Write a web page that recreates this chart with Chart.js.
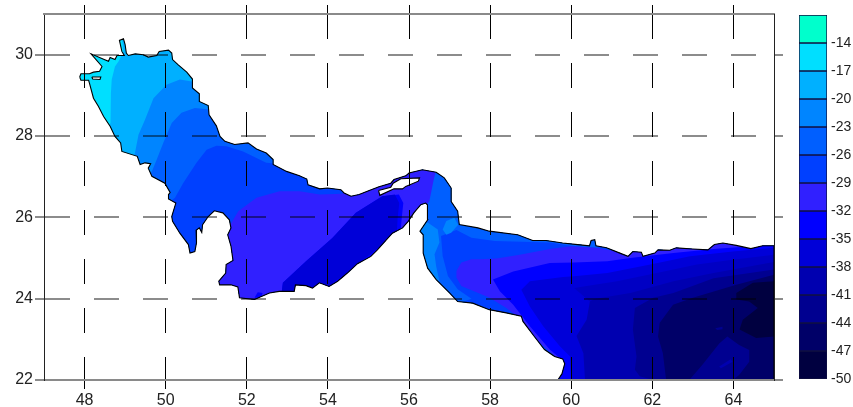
<!DOCTYPE html>
<html lang="en">
<head>
<meta charset="UTF-8">
<title>Contour map</title>
<script src="https://cdn.jsdelivr.net/npm/chart.js"></script>
<style>
    html, body { margin: 0; padding: 0; background: #fff; overflow: hidden; }
    #map { position: absolute; left: 0; top: 0; }
    #bar { position: absolute; left: 790px; top: 0; }
</style>
</head>
<body>
<canvas id="map" width="853" height="407"></canvas>
<canvas id="bar" width="63" height="407"></canvas>
<script>
// colour bar
const levelTicks = [-14, -17, -20, -23, -26, -29, -32, -35, -38, -41, -44, -47, -50];
const levelTops = [-11, -14, -17, -20, -23, -26, -29, -32, -35, -38, -41, -44, -47];
const levelColors = ['#00ffcc', '#00dfff', '#00b0ff', '#0085ff', '#005fff', '#0040ff', '#3020ff',
    '#0000ff', '#0000d8', '#0000b0', '#000090', '#000068', '#000040'];

// axis ticks (lon, lat)
const lonTicks = [48, 50, 52, 54, 56, 58, 60, 62, 64];
const latTicks = [22, 24, 26, 28, 30];

// coastline, lon/lat pairs
const coast = [[47.88,29.45],[47.91,29.53],[48.12,29.53],[48.22,29.57],[48.37,29.59],[48.43,29.71],[48.16,30.02],
    [48.47,29.89],[48.59,29.84],[48.63,29.93],[48.75,29.88],[48.80,29.98],[48.98,29.98],[48.92,30.08],[48.86,30.35],
    [48.96,30.39],[49.00,30.25],[49.03,30.04],[49.08,29.98],[49.25,30.02],[49.45,30.00],[49.57,29.94],[49.78,29.98],
    [49.84,30.08],[50.07,30.11],[50.15,30.04],[50.17,29.88],[50.31,29.75],[50.52,29.57],[50.66,29.40],[50.66,29.18],
    [50.83,29.04],[50.83,28.85],[51.05,28.75],[51.07,28.52],[51.25,28.25],[51.34,27.99],[51.46,27.87],[51.70,27.79],
    [52.03,27.83],[52.24,27.68],[52.48,27.58],[52.65,27.42],[52.65,27.30],[52.98,27.13],[53.30,27.02],[53.48,26.94],
    [53.51,26.80],[53.80,26.70],[53.99,26.72],[54.32,26.68],[54.40,26.60],[54.57,26.52],[54.77,26.56],[55.02,26.66],
    [55.26,26.75],[55.55,26.84],[55.63,26.93],[55.92,27.02],[56.00,27.09],[56.33,27.17],[56.67,27.11],[56.87,26.97],
    [57.04,26.72],[57.04,26.39],[57.20,26.15],[57.24,25.82],[57.70,25.74],[57.98,25.66],[58.68,25.57],[59.05,25.43],
    [59.38,25.43],[59.79,25.37],[60.16,25.33],[60.45,25.30],[60.49,25.43],[60.58,25.45],[60.61,25.30],[60.87,25.25],
    [61.20,25.12],[61.40,25.04],[61.52,25.16],[61.73,25.14],[61.77,25.04],[62.06,25.12],[62.14,25.20],[62.43,25.19],
    [62.59,25.25],[63.00,25.22],[63.37,25.20],[63.53,25.33],[63.74,25.37],[64.07,25.31],[64.43,25.23],[64.72,25.30],
    [65.00,25.30],[65.00,22.00],[59.67,22.00],[59.77,22.15],[59.84,22.40],[59.79,22.52],[59.59,22.58],[59.34,22.75],
    [59.09,23.07],[58.81,23.44],[58.77,23.57],[58.40,23.65],[57.98,23.73],[57.57,23.89],[57.20,23.93],[57.00,24.14],
    [56.67,24.47],[56.46,24.75],[56.35,25.12],[56.35,25.57],[56.27,25.66],[56.46,25.94],[56.46,26.23],[56.45,26.31],
    [56.41,26.35],[56.29,26.31],[56.12,26.11],[55.98,25.90],[55.84,25.74],[55.59,25.61],[55.22,25.20],[55.06,25.04],
    [54.73,24.86],[54.48,24.63],[54.24,24.43],[54.03,24.30],[53.79,24.39],[53.62,24.26],[53.46,24.32],[53.20,24.34],
    [53.17,24.18],[52.80,24.18],[52.56,24.14],[52.19,23.98],[51.82,24.02],[51.78,24.29],[51.61,24.34],[51.33,24.34],
    [51.31,24.43],[51.48,24.63],[51.49,24.84],[51.66,24.94],[51.61,25.29],[51.53,25.57],[51.61,25.74],[51.57,25.94],
    [51.41,26.11],[51.20,26.16],[51.05,26.02],[50.91,25.82],[50.89,25.63],[50.83,25.74],[50.75,25.68],[50.76,25.37],
    [50.72,25.16],[50.60,25.12],[50.56,25.33],[50.35,25.61],[50.17,25.90],[50.15,26.02],[50.25,26.35],[50.07,26.45],
    [50.07,26.56],[50.11,26.61],[49.98,26.84],[49.66,27.01],[49.57,27.21],[49.63,27.32],[49.49,27.34],[49.37,27.30],
    [49.30,27.50],[48.92,27.62],[48.89,27.83],[48.75,27.99],[48.63,28.24],[48.47,28.48],[48.34,28.73],[48.22,28.93],
    [48.12,29.30],[48.10,29.37],[47.91,29.37],[47.88,29.45]];
const bubiyan = [[48.18,29.45],[48.40,29.45],[48.38,29.39],[48.20,29.40],[48.18,29.45]];
const qeshm = [[55.25,26.66],[55.55,26.74],[55.61,26.84],[55.80,26.95],[56.26,26.97],[56.23,26.89],[55.92,26.76],
    [55.84,26.70],[55.63,26.70],[55.28,26.54],[55.25,26.66]];

// contour bands, painted in this order and clipped to the coast
const bandAll = [[47,22],[65,22],[65,31],[47,31]];
const band20 = [[48.85,31],[48.96,30.08],[48.84,29.84],[48.75,29.71],[48.67,29.39],[48.65,29.06],[48.63,28.65],
    [48.65,28.32],[48.50,28.10],[48.00,27.50],[48,22],[65,22],[65,31]];
const band23 = [[51,31],[51,29.45],[50.64,29.34],[50.35,29.39],[50.02,29.26],[49.70,28.93],[49.49,28.40],
    [49.33,28.03],[49.25,27.62],[49.20,27.40],[48.50,22],[65,22],[65,31]];
const band26 = [[51.4,31],[51.4,28.70],[51.09,28.65],[50.72,28.69],[50.39,28.57],[50.15,28.32],[49.94,27.83],
    [49.78,27.42],[49.66,27.13],[49.40,26.80],[49.40,22],[65,22],[65,31]];
const band29 = [[50.00,26.30],[50.23,26.48],[50.43,26.84],[50.76,27.34],[51.01,27.66],[51.25,27.76],[51.50,27.75],
    [51.91,27.62],[52.48,27.34],[53.00,27.30],[65,27.30],[65,22],[50,22]];
const strait26 = [[56.20,27.40],[60.65,27.40],[60.65,25.25],[60.00,25.30],[59.47,25.38],[58.80,25.40],[58.12,25.42],
    [57.54,25.50],[57.17,25.69],[56.79,25.54],[56.83,25.05],[56.96,24.56],[57.20,24.23],[57.54,24.00],[57.00,23.80],
    [56.20,23.80]];
const westStrip23 = [[56.46,25.87],[56.71,25.70],[56.75,25.38],[56.63,25.09],[56.67,24.80],[56.75,24.43],[56.30,24.40],[56.20,25.90]];
const blob23 = [[56.83,25.70],[56.92,25.91],[57.12,25.99],[57.21,25.82],[57.04,25.62],[56.92,25.57]];
const gulf32 = [[51.15,25.90],[51.62,25.86],[51.79,26.15],[52.24,26.48],[52.81,26.64],[53.30,26.64],[53.80,26.56],
    [54.36,26.58],[54.50,26.90],[56.67,27.30],[56.67,27.16],[56.61,26.93],[56.50,26.39],[56.42,26.30],[56.20,25.80],
    [55.50,23.50],[51.15,23.50]];
const gulf35 = [[52.84,24.00],[52.89,24.39],[53.46,24.92],[54.11,25.49],[54.69,26.11],[55.34,26.52],[55.75,26.56],
    [55.86,26.35],[55.82,25.98],[55.80,25.74],[55.50,25.30],[53.50,23.90]];
const gulf38 = [[52.84,24.00],[52.89,24.39],[53.46,24.92],[54.11,25.49],[54.69,26.11],[55.34,26.52],[55.65,26.56],
    [55.76,26.35],[55.72,25.98],[55.70,25.60],[53.50,23.90]];
const spot35 = [[52.19,24.02],[52.27,24.16],[52.39,24.14],[52.35,24.02]];
const oman32 = [[57.17,24.52],[57.17,24.68],[57.29,24.89],[57.54,24.97],[57.74,24.97],[58.16,24.99],[58.73,25.08],
    [59.51,25.23],[60.00,25.29],[60.60,25.25],[61.20,25.15],[61.40,25.30],[65,25.40],[65,22],[59.70,22.50],
    [59.23,22.91],[58.73,23.52],[58.40,23.77],[57.99,24.02],[57.29,24.31]];
const oman35 = [[58.07,24.47],[58.57,24.67],[59.47,24.88],[60.07,24.89],[60.89,24.92],[61.46,25.00],[62.52,25.12],
    [63.51,25.22],[65,25.33],[65,22],[59.60,22],[59.72,22.54],[59.47,22.75],[58.98,23.32],[58.57,23.85],[58.24,24.18]];
const oman38 = [[58.77,24.22],[58.98,24.43],[59.80,24.53],[60.07,24.55],[60.89,24.63],[61.95,24.84],[62.93,25.04],
    [63.98,25.16],[65,25.25],[65,22],[60.00,22],[59.97,22.58],[59.72,22.83],[59.31,23.32],[58.98,23.81]];
const oman40 = [[60.46,23.93],[60.07,24.26],[61.13,24.43],[62.11,24.63],[63.10,24.84],[63.98,24.96],[65,25.08],[65,24],[61,23.9]];
const oman41 = [[60.34,22],[60.30,22.66],[60.13,23.08],[60.38,23.48],[60.46,23.93],[60.56,23.99],[61.46,24.14],
    [62.52,24.43],[63.51,24.63],[65,24.90],[65,22]];
const oman44 = [[62.02,22],[61.69,22.09],[61.57,22.25],[61.61,22.58],[61.52,23.24],[61.57,23.77],[62.02,24.02],
    [62.52,24.14],[63.51,24.50],[65,24.72],[65,22]];
const oman47 = [[62.34,22],[62.26,22.66],[62.14,23.07],[62.18,23.40],[62.51,23.85],[63.00,24.02],[64.07,24.34],[65,24.59],[65,22]];
const tongue44 = [[62.91,22],[63.23,22.37],[63.65,22.90],[63.85,23.07],[64.14,22.86],[64.39,22.74],[64.39,22.45],[64.14,22.12],[63.98,22]];
const streak41 = [[63.65,22.33],[63.93,22.51],[63.98,22.45],[63.69,22.29]];
const dot44 = [[63.55,23.27],[63.73,23.31],[63.73,23.25],[63.60,23.23]];
const corner50 = [[64.07,24.14],[64.48,24.39],[65,24.43],[65,23.07],[64.56,23.03],[64.15,23.24],[64.23,23.48],[64.60,23.77],[64.39,23.93],[64.07,23.98]];

const paintOrder = [
    [bandAll, '#00dfff'], [band20, '#00b0ff'], [band23, '#0085ff'], [band26, '#005fff'], [band29, '#0040ff'],
    [strait26, '#005fff'], [westStrip23, '#0085ff'], [blob23, '#0085ff'], [gulf32, '#3020ff'], [gulf35, '#0000ff'],
    [gulf38, '#0000d8'], [spot35, '#0000ff'], [oman32, '#3020ff'], [oman35, '#0000ff'], [oman38, '#0000d8'],
    [oman40, '#0000c4'], [oman41, '#0000b0'], [oman44, '#000090'], [oman47, '#000068'], [tongue44, '#000090'],
    [streak41, '#0000b0'], [dot44, '#000090'], [corner50, '#000040']
];

function toPoints(pairs) {
    return pairs.map(p => ({ x: p[0], y: p[1] }));
}

function bandDataset(pairs, color) {
    return { data: toPoints(pairs), showLine: true, fill: 'shape', backgroundColor: color, borderWidth: 0, pointRadius: 0 };
}

function outline(pairs, fillColor) {
    return {
        data: toPoints(pairs), showLine: true, borderColor: '#000', borderWidth: 1.1, pointRadius: 0,
        fill: fillColor ? 'shape' : false, backgroundColor: fillColor
    };
}

// datasets draw last to first, so the outlines go first in the list
const datasets = [outline(coast), outline(bubiyan, '#fff'), outline(qeshm, '#fff')];
paintOrder.slice().reverse().forEach(b => datasets.push(bandDataset(b[0], b[1])));

// keep the bands inside the coastline
const coastClip = {
    id: 'coastClip',
    beforeDatasetsDraw(chart) {
        const ctx = chart.ctx;
        ctx.save();
        ctx.beginPath();
        coast.forEach((p, i) => {
            const px = chart.scales.x.getPixelForValue(p[0]);
            const py = chart.scales.y.getPixelForValue(p[1]);
            if (i === 0) ctx.moveTo(px, py); else ctx.lineTo(px, py);
        });
        ctx.closePath();
        ctx.clip();
    },
    beforeDatasetDraw(chart, args) {
        if (args.index === 2) chart.ctx.restore();
    }
};

const GREY = 'rgba(0,0,0,0.45)';
const tickFont = { family: "'Liberation Sans', Arial, sans-serif", size: 16 };

function lonAxis(position, showLabels, height) {
    return {
        type: 'linear', position: position, axis: 'x', min: 47, max: 65,
        afterFit: s => { s.height = height; },
        afterBuildTicks: s => { s.ticks = lonTicks.map(v => ({ value: v })); },
        ticks: { display: showLabels, maxRotation: 0, autoSkip: false, color: '#222', font: tickFont, padding: 2 },
        grid: {
            z: 1, color: '#000', lineWidth: 1, drawOnChartArea: showLabels,
            tickColor: '#000', tickLength: 9, tickWidth: 1
        },
        border: { z: 2, color: '#8a8a8a', width: 2, dash: [25, 24] }
    };
}

function latAxis(position, showLabels, width) {
    return {
        type: 'linear', position: position, axis: 'y', min: 22, max: 31,
        afterFit: s => { s.width = width; },
        afterBuildTicks: s => { s.ticks = latTicks.map(v => ({ value: v })); },
        ticks: { display: showLabels, autoSkip: false, color: '#222', font: tickFont, padding: 2 },
        grid: {
            z: 1, color: GREY, lineWidth: 2, drawOnChartArea: showLabels,
            tickColor: GREY, tickLength: 9, tickWidth: 2
        },
        border: { z: 2, color: '#222', width: 1, dash: [25, 24] }
    };
}

new Chart(document.getElementById('map'), {
    type: 'scatter',
    data: { datasets: datasets },
    plugins: [coastClip],
    options: {
        responsive: false,
        animation: false,
        layout: { padding: 0 },
        elements: { line: { tension: 0 } },
        plugins: { legend: { display: false }, tooltip: { enabled: false } },
        scales: {
            x: lonAxis('bottom', true, 27),
            y: latAxis('left', true, 44),
            xTop: lonAxis('top', false, 14),
            yRight: latAxis('right', false, 79)
        }
    }
});

new Chart(document.getElementById('bar'), {
    type: 'bar',
    data: {
        labels: [''],
        datasets: levelColors.map((c, i) => ({
            data: [[levelTops[i] - 3, levelTops[i]]],
            backgroundColor: c,
            borderColor: '#101040',
            borderWidth: 1,
            borderSkipped: false,
            grouped: false,
            barPercentage: 1,
            categoryPercentage: 1
        }))
    },
    options: {
        responsive: false,
        animation: false,
        layout: { padding: { left: 9, top: 15, bottom: 28 } },
        plugins: { legend: { display: false }, tooltip: { enabled: false } },
        scales: {
            x: { display: false },
            y: {
                position: 'right', min: -50, max: -11,
                afterFit: s => { s.width = 26; },
                afterBuildTicks: s => { s.ticks = levelTicks.map(v => ({ value: v })); },
                ticks: { color: '#222', autoSkip: false, padding: 4, font: { family: tickFont.family, size: 14 } },
                grid: { display: false, drawTicks: false },
                border: { display: false }
            }
        }
    }
});
</script>
</body>
</html>
